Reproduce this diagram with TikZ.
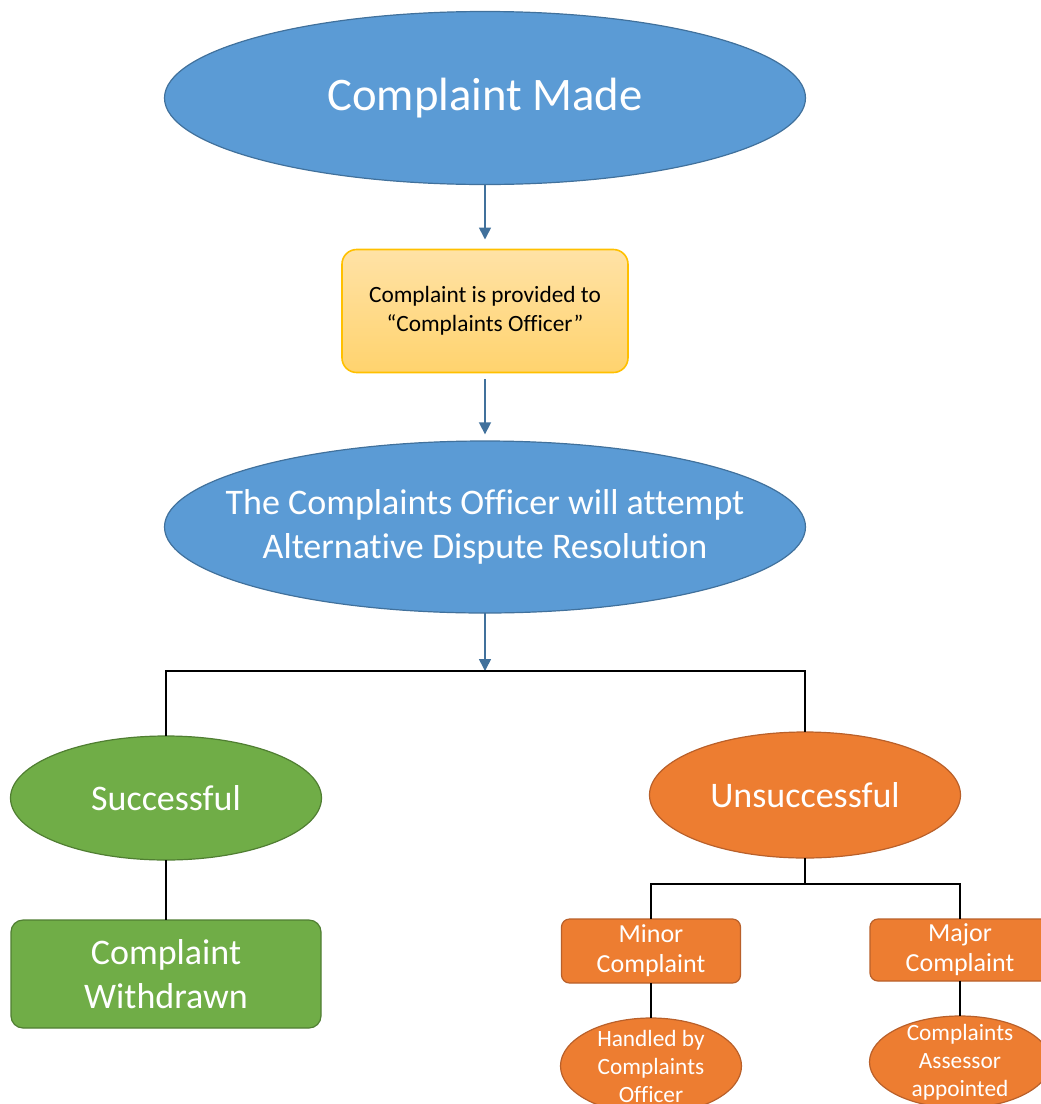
\documentclass[tikz,border=0pt]{standalone}
\usepackage{fontspec}
\setmainfont{Carlito}[Ligatures={NoCommon}]
\usetikzlibrary{shapes.geometric,arrows.meta}
\definecolor{cblue}{HTML}{5B9BD5}
\definecolor{cbluedk}{HTML}{41719C}
\definecolor{cgreen}{HTML}{70AD47}
\definecolor{cgreendk}{HTML}{507E32}
\definecolor{corange}{HTML}{ED7D31}
\definecolor{corangedk}{HTML}{B9602A}
\definecolor{cyellowA}{HTML}{FFE2A6}
\definecolor{cyellowB}{HTML}{FFD36E}
\definecolor{cyellowdk}{HTML}{FFC000}
\tikzset{
  shp/.style={inner sep=0pt, outer sep=0pt, line width=0.9pt},
  ell/.style={shp, ellipse},
  rbox/.style={shp, rectangle, align=center, text=white},
  txtXL/.style={text=white, align=center, font=\fontsize{35}{43}\selectfont},
  txtL/.style={text=white, align=center, font=\fontsize{27}{33}\selectfont},
  txtM/.style={text=white, align=center, font=\fontsize{19.5}{22.5}\selectfont},
  txtS/.style={text=white, align=center, font=\fontsize{17.5}{21}\selectfont},
  bluearrow/.style={draw=cbluedk, line width=1.2pt, -{Triangle[width=9pt,length=9pt]}},
  conn/.style={draw=black, line width=1.1pt},
}
\begin{document}
\begin{tikzpicture}[x=0.75pt, y=-0.75pt]
\useasboundingbox (0,0) rectangle (1040,1104);

% top ellipse
\node[ell, fill=cblue, draw=cbluedk, minimum width=480.75pt, minimum height=129.75pt,
  label={[txtXL]center:Complaint Made}] (made) at (485,98) {};

% yellow box
\node[shp, rectangle, rounded corners=11pt, draw=cyellowdk, line width=1.2pt,
  top color=cyellowA, bottom color=cyellowB,
  minimum width=214.5pt, minimum height=92.25pt, align=center,
  font=\fontsize{17.5}{22}\selectfont] (officer) at (485,311)
  {Complaint is provided to\\“Complaints Officer”};

% ADR ellipse
\node[ell, fill=cblue, draw=cbluedk, minimum width=480.75pt, minimum height=129pt,
  label={[txtL]center:The Complaints Officer will attempt\\Alternative Dispute Resolution}] (adr) at (485,527) {};

% junction
\coordinate (j1) at (485,671);

% successful
\node[ell, fill=cgreen, draw=cgreendk, minimum width=233.25pt, minimum height=93pt,
  label={[txtL]center:Successful}] (succ) at (166,798) {};
\node[rbox, fill=cgreen, draw=cgreendk, rounded corners=9pt,
  minimum width=232.5pt, minimum height=81pt, font=\fontsize{27}{33}\selectfont] (withdrawn) at (166,974)
  {Complaint\\Withdrawn};

% unsuccessful
\node[ell, fill=corange, draw=corangedk, minimum width=233.25pt, minimum height=94.5pt,
  label={[txtL]center:Unsuccessful}] (unsucc) at (805,795) {};
\coordinate (j2) at (805,884);

\node[rbox, fill=corange, draw=corangedk, rounded corners=6pt,
  minimum width=134.25pt, minimum height=48pt, font=\fontsize{19.5}{22.5}\selectfont] (minor) at (651,951)
  {Minor\\Complaint};
\node[rbox, fill=corange, draw=corangedk, rounded corners=6pt,
  minimum width=135pt, minimum height=46.5pt, font=\fontsize{19.5}{22.5}\selectfont] (major) at (960,950)
  {Major\\Complaint};

\node[ell, fill=corange, draw=corangedk, minimum width=135.75pt, minimum height=72pt,
  label={[txtS]center:Handled by\\Complaints\\Officer}] (handled) at (651,1066) {};
\node[ell, fill=corange, draw=corangedk, minimum width=135.75pt, minimum height=69pt,
  label={[txtS]center:Complaints\\Assessor\\appointed}] (assessor) at (960,1062) {};

% connectors
\draw[bluearrow, shorten >=7.5pt] (made.south) -- (officer.north);
\draw[bluearrow, shorten <=5pt, shorten >=5pt] (officer.south) -- (adr.north);
\draw[bluearrow] (adr.south) -- (j1);

\draw[conn] (succ.north) -- (succ.north |- j1) -- (unsucc.north |- j1) -- (unsucc.north);
\draw[conn] (succ.south) -- (withdrawn.north);

\draw[conn] (unsucc.south) -- (j2);
\draw[conn] (minor.north) -- (minor.north |- j2) -- (major.north |- j2) -- (major.north);
\draw[conn] (minor.south) -- (handled.north);
\draw[conn] (major.south) -- (assessor.north);
\end{tikzpicture}
\end{document}
